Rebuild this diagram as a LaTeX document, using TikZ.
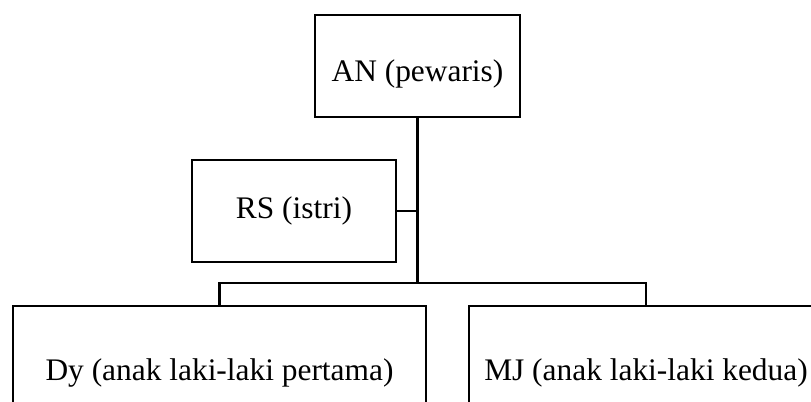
\documentclass[tikz,border=0pt]{standalone}
\usepackage{fontspec}
\setmainfont{Liberation Serif}
\begin{document}
\begin{tikzpicture}[x=0.5pt,y=-0.5pt,
  box/.style={draw,line width=1.3pt,inner sep=0pt,align=center,font=\fontsize{15.7}{19}\selectfont},
  link/.style={line width=1.3pt}]
\useasboundingbox (0,0) rectangle (811,402);
\clip (0,0) rectangle (811,402);
\node[box,minimum width=102.5pt,minimum height=51pt,text height=18.5pt,text depth=3.4pt] (AN) at (417.5,66) {AN (pewaris)};
\node[box,minimum width=102pt,minimum height=51pt] (RS) at (294,211) {RS (istri)};
\node[box,minimum width=206.5pt,minimum height=67pt] (Dy) at (219.5,373) {Dy (anak laki-laki pertama)};
\node[box,minimum width=177pt,minimum height=67pt] (MJ) at (646,373) {MJ (anak laki-laki kedua)};
\coordinate (bus) at (417.5,283);
\draw[link] (AN.south) -- (bus);
\draw[link] (RS.east) -- (RS.east -| AN.south);
\draw[link] (Dy.north) -- (Dy.north |- bus) -- (MJ.north |- bus) -- (MJ.north);
\end{tikzpicture}
\end{document}
